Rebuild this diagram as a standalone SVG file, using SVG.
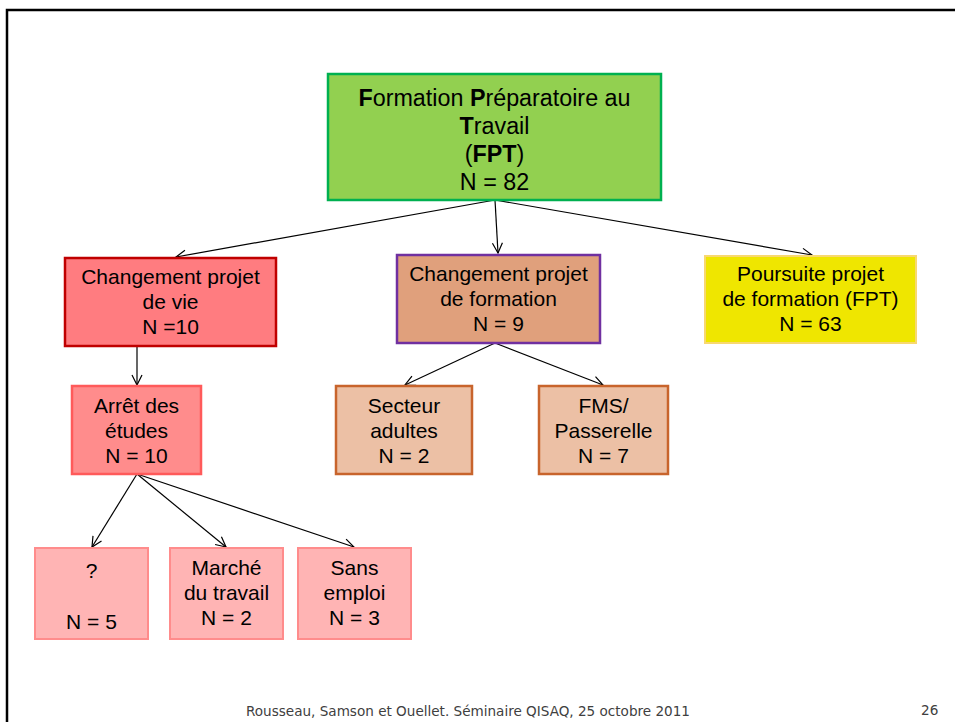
<svg xmlns="http://www.w3.org/2000/svg" width="955" height="722" viewBox="0 0 955 722">
<defs>
<marker id="arr" viewBox="0 0 12 12" refX="11" refY="6" markerWidth="12" markerHeight="12" markerUnits="userSpaceOnUse" orient="auto">
<polyline points="1,1 11,6 1,11" fill="none" stroke="#000" stroke-width="1.2"/>
</marker>
<style>
.t{font-family:"Liberation Sans",Arial,sans-serif;font-size:21px;fill:#000;text-anchor:middle}
.big{font-size:23.3px}
.c{stroke:#000;stroke-width:1.2;fill:none;marker-end:url(#arr)}
.foot{font-family:"DejaVu Sans",Verdana,sans-serif;font-size:13.6px;fill:#404040}
</style>
</defs>
<rect width="955" height="722" fill="#fff"/>
<path d="M7,722 V10 H955" fill="none" stroke="#000" stroke-width="2.5"/>

<g id="connectors">
<line class="c" x1="495" y1="200" x2="176" y2="257"/>
<line class="c" x1="495" y1="200" x2="498" y2="253"/>
<line class="c" x1="495" y1="200" x2="812" y2="255"/>
<line class="c" x1="137" y1="346" x2="137" y2="385"/>
<line class="c" x1="495" y1="343" x2="405" y2="385"/>
<line class="c" x1="495" y1="343" x2="603" y2="385"/>
<line class="c" x1="137" y1="474" x2="92" y2="547"/>
<line class="c" x1="137" y1="474" x2="226" y2="547"/>
<line class="c" x1="137" y1="474" x2="354" y2="547"/>
</g>

<g id="fpt">
<rect x="328" y="74" width="333" height="126" fill="#92D050" stroke="#00B050" stroke-width="2.5"/>
<text class="t big" x="494.5" y="106"><tspan font-weight="bold">F</tspan>ormation <tspan font-weight="bold">P</tspan>réparatoire au</text>
<text class="t big" x="494.5" y="134"><tspan font-weight="bold">T</tspan>ravail</text>
<text class="t big" x="494.5" y="162">(<tspan font-weight="bold">FPT</tspan>)</text>
<text class="t big" x="494.5" y="190">N = 82</text>
</g>

<g id="changement-vie">
<rect x="65" y="258" width="211" height="88" fill="#FF7C80" stroke="#C00000" stroke-width="2.5"/>
<text class="t" x="170.5" y="284">Changement projet</text>
<text class="t" x="170.5" y="309">de vie</text>
<text class="t" x="170.5" y="334">N =10</text>
</g>

<g id="changement-formation">
<rect x="397" y="255" width="203" height="88" fill="#E0A07C" stroke="#7030A0" stroke-width="2.5"/>
<text class="t" x="498.5" y="281">Changement projet</text>
<text class="t" x="498.5" y="306">de formation</text>
<text class="t" x="498.5" y="331">N = 9</text>
</g>

<g id="poursuite">
<rect x="705" y="256" width="211" height="87" fill="#EFE600" stroke="#F8D870" stroke-width="2"/>
<text class="t" x="810.5" y="281">Poursuite projet</text>
<text class="t" x="810.5" y="306">de formation (FPT)</text>
<text class="t" x="810.5" y="331">N = 63</text>
</g>

<g id="arret">
<rect x="72" y="386" width="129" height="88" fill="#FF8C8C" stroke="#FF5A5A" stroke-width="2.5"/>
<text class="t" x="136.5" y="413">Arrêt des</text>
<text class="t" x="136.5" y="438">études</text>
<text class="t" x="136.5" y="463">N = 10</text>
</g>

<g id="secteur">
<rect x="336" y="386" width="136" height="88" fill="#ECC0A5" stroke="#C8642C" stroke-width="2.5"/>
<text class="t" x="404" y="413">Secteur</text>
<text class="t" x="404" y="438">adultes</text>
<text class="t" x="404" y="463">N = 2</text>
</g>

<g id="fms">
<rect x="539" y="386" width="129" height="88" fill="#ECC0A5" stroke="#C8642C" stroke-width="2.5"/>
<text class="t" x="603.5" y="413">FMS/</text>
<text class="t" x="603.5" y="438">Passerelle</text>
<text class="t" x="603.5" y="463">N = 7</text>
</g>

<g id="inconnu">
<rect x="35" y="548" width="113" height="91" fill="#FFB4B4" stroke="#FF8C8C" stroke-width="2"/>
<text class="t" x="91.5" y="578">?</text>
<text class="t" x="91.5" y="629">N = 5</text>
</g>

<g id="marche">
<rect x="170" y="548" width="113" height="91" fill="#FFB4B4" stroke="#FF8C8C" stroke-width="2"/>
<text class="t" x="226.5" y="575">Marché</text>
<text class="t" x="226.5" y="600">du travail</text>
<text class="t" x="226.5" y="625">N = 2</text>
</g>

<g id="sans-emploi">
<rect x="298" y="548" width="113" height="91" fill="#FFB4B4" stroke="#FF8C8C" stroke-width="2"/>
<text class="t" x="354.5" y="575">Sans</text>
<text class="t" x="354.5" y="600">emploi</text>
<text class="t" x="354.5" y="625">N = 3</text>
</g>

<text class="foot" x="246" y="716" textLength="444" lengthAdjust="spacingAndGlyphs">Rousseau, Samson et Ouellet. Séminaire QISAQ, 25 octobre 2011</text>
<text class="foot" x="921" y="715" font-size="14.5" fill="#4A5A7A">26</text>
</svg>
